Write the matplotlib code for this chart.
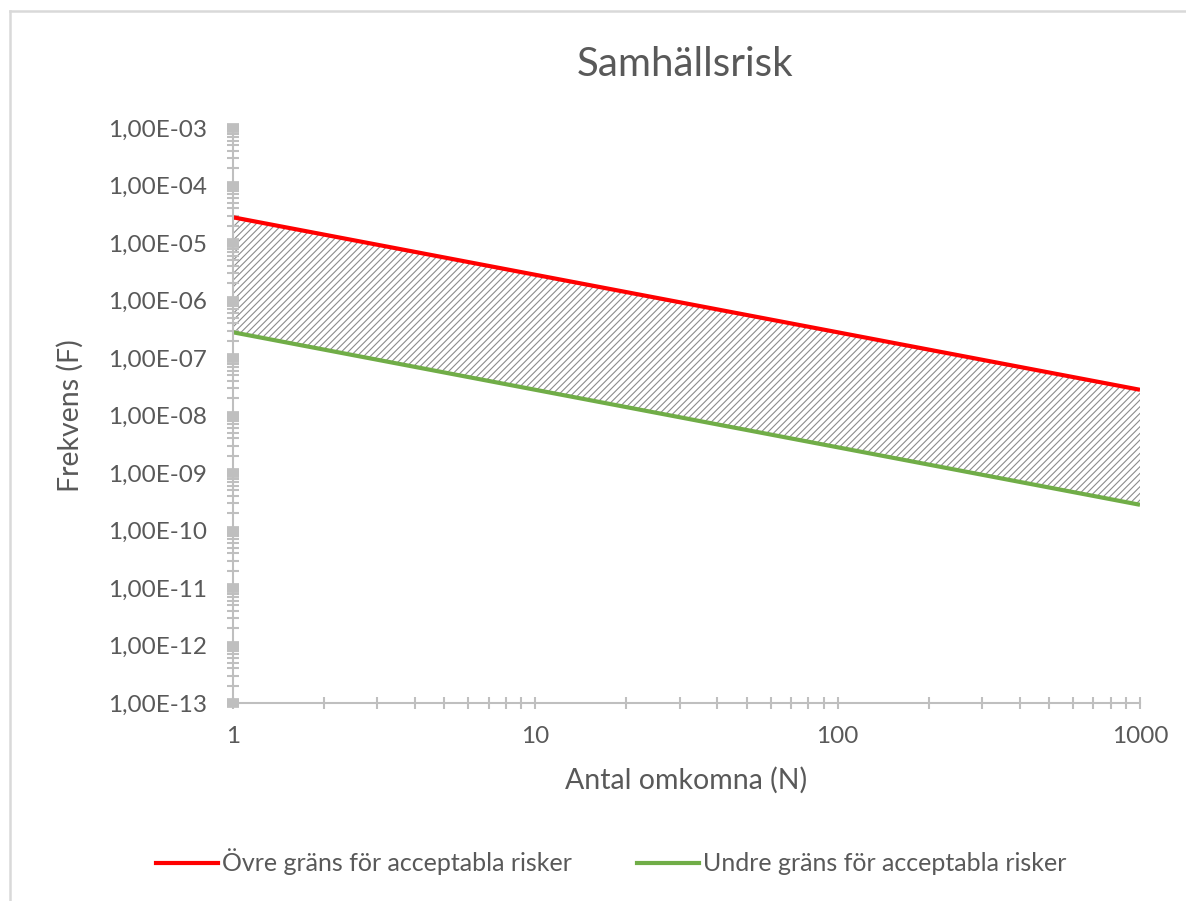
import matplotlib
matplotlib.use("Agg")
import matplotlib.pyplot as plt
import numpy as np
from matplotlib.ticker import LogLocator, FuncFormatter, NullFormatter
from matplotlib.lines import Line2D

plt.rcParams['font.family'] = ['Lato', 'DejaVu Sans']
plt.rcParams['hatch.linewidth'] = 0.8

# data
n_dead = [1, 1000]
upper_limit = [2.8e-5, 2.8e-8]
lower_limit = [2.8e-7, 2.8e-10]
upper_label = 'Övre gräns för acceptabla risker'
lower_label = 'Undre gräns för acceptabla risker'

text_col = '#595959'
axis_col = '#BFBFBF'

fig = plt.figure(figsize=(11.86, 9.01), dpi=100)
W, H = 1186, 901
ax = fig.add_axes([233 / W, 1 - 703 / H, (1140 - 233) / W, (703 - 128) / H])

# hatched band between limits
ax.fill_between(n_dead, lower_limit, upper_limit, facecolor='none',
                edgecolor='#8C8C8C', hatch='/////', linewidth=0)
ax.plot(n_dead, upper_limit, color='#FF0000', lw=3, solid_capstyle='butt')
ax.plot(n_dead, lower_limit, color='#70AD47', lw=3, solid_capstyle='butt')

ax.set_xscale('log')
ax.set_yscale('log')
ax.set_xlim(1, 1000)
ax.set_ylim(1e-13, 1e-3)

for s in ['top', 'right']:
    ax.spines[s].set_visible(False)
for s in ['left', 'bottom']:
    ax.spines[s].set_color(axis_col)
    ax.spines[s].set_linewidth(1.5)

ax.xaxis.set_major_locator(LogLocator(base=10, numticks=10))
ax.xaxis.set_minor_locator(LogLocator(base=10, subs=np.arange(2, 10), numticks=20))
ax.yaxis.set_major_locator(LogLocator(base=10, numticks=20))
ax.yaxis.set_minor_locator(LogLocator(base=10, subs=np.arange(2, 10), numticks=30))
ax.xaxis.set_minor_formatter(NullFormatter())
ax.yaxis.set_minor_formatter(NullFormatter())
ax.xaxis.set_major_formatter(FuncFormatter(lambda v, p: f'{v:g}'))
ax.yaxis.set_major_formatter(FuncFormatter(
    lambda v, p: ('%.2E' % v).replace('.', ',')))

ax.tick_params(axis='x', which='both', direction='inout', length=9, width=1.5,
               color=axis_col, labelcolor=text_col, labelsize=17.5, pad=12)
ax.tick_params(axis='y', which='minor', direction='inout', length=9, width=1.5,
               color=axis_col)
ax.tick_params(axis='y', which='major', direction='inout', length=9, width=7,
               color=axis_col, labelcolor=text_col, labelsize=17.5, pad=14)

ax.set_xlabel('Antal omkomna (N)', fontsize=20.5, color=text_col, labelpad=14)
ax.set_ylabel('Frekvens (F)', fontsize=20.5, color=text_col, labelpad=18)
fig.text(685 / W, 1 - 65 / H, 'Samhällsrisk', fontsize=29, color=text_col,
         ha='center', va='center')

handles = [Line2D([], [], color='#FF0000', lw=3),
           Line2D([], [], color='#70AD47', lw=3)]
fig.legend(handles, [upper_label, lower_label], loc='center',
           bbox_to_anchor=(611 / W, 1 - 862 / H), ncol=2, frameon=False,
           fontsize=18, labelcolor=text_col, handlelength=2.5,
           handletextpad=0.15, columnspacing=2.6)

# chart-area border (top and left visible)
fig.add_artist(Line2D([10 / W, 1], [1 - 11 / H, 1 - 11 / H], color='#D9D9D9',
                      lw=1.8, transform=fig.transFigure))
fig.add_artist(Line2D([10 / W, 10 / W], [0, 1 - 11 / H], color='#D9D9D9',
                      lw=1.8, transform=fig.transFigure))

fig.savefig('out.png', dpi=100, facecolor='white')
